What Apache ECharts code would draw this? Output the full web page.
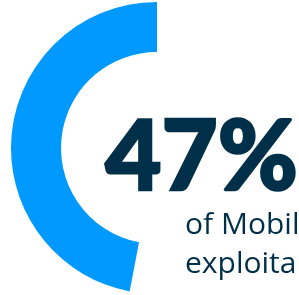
<!DOCTYPE html>
<html>
<head>
<meta charset="utf-8">
<style>html,body{margin:0;padding:0;background:#fff;}#c{width:299px;height:295px;}</style>
<script src="https://cdn.jsdelivr.net/npm/echarts@6/dist/echarts.min.js"></script>
</head>
<body>
<div id="c"></div>
<script>
var categories = ['share', 'rest'];
var values = [47, 53];
var captionLines = ['of Mobil', 'exploita'];

var chart = echarts.init(document.getElementById('c'), null, {renderer: 'canvas'});
chart.setOption({
  animation: false,
  series: [{
    type: 'pie',
    silent: true,
    center: [157, 148],
    radius: [96, 146],
    startAngle: 90,
    clockwise: false,
    label: {show: false},
    labelLine: {show: false},
    data: [
      {name: categories[0], value: values[0], itemStyle: {color: '#0099ff'}},
      {name: categories[1], value: values[1], itemStyle: {color: 'rgba(0,0,0,0)'}}
    ]
  }],
  graphic: [
    {type: 'text', left: 104, top: 109, style: {text: values[0] + '%', font: '900 97px Lato', fill: '#003049', stroke: '#003049', lineWidth: 2.5}},
    {type: 'text', left: 185, top: 206, style: {text: captionLines.join('\n'), font: '400 30px "Open Sans"', lineHeight: 39, fill: '#003049'}}
  ]
});
</script>
</body>
</html>
